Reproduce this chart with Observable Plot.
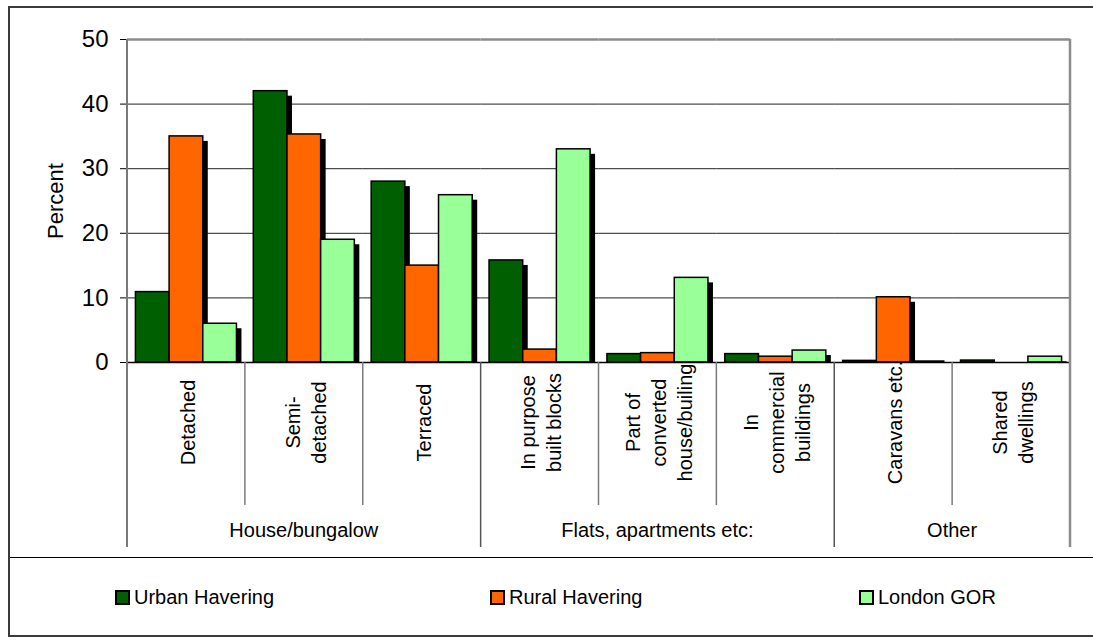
<!DOCTYPE html>
<html><head><meta charset="utf-8">
<script src="https://cdn.jsdelivr.net/npm/d3@7"></script>
<script src="https://cdn.jsdelivr.net/npm/@observablehq/plot@0.6"></script>
<style>
html,body{margin:0;padding:0;background:#fff;overflow:hidden;}
body{width:1093px;height:640px;position:relative;font-family:"Liberation Sans",Arial,sans-serif;}
#chart{position:absolute;left:0;top:0;}
#outer{position:absolute;left:8px;top:6px;width:1095px;height:631px;border:2px solid #3a3a3a;box-sizing:border-box;pointer-events:none;}
#legend{position:absolute;left:9px;top:557px;width:1090px;height:78px;border-top:1.5px solid #000;}
.item{position:absolute;top:29px;display:flex;align-items:center;font-size:20px;color:#000;line-height:20px;}
.sw{width:11px;height:11px;border:2px solid #000;margin-right:4px;}
</style></head>
<body>
<div id="chart"></div>
<div id="legend"></div>
<div id="outer"></div>
<script>
const categories = ["Detached","Semi-detached","Terraced","In purpose built blocks","Part of converted house/builing","In commercial buildings","Caravans etc.","Shared dwellings"];
const categoryLabels = ["Detached","Semi-\ndetached","Terraced","In purpose\nbuilt blocks","Part of\nconverted\nhouse/builing","In\ncommercial\nbuildings","Caravans etc.","Shared\ndwellings"];
const groups = ["House/bungalow","Flats, apartments etc:","Other"];
const groupOf = [0,0,0,1,1,1,2,2];
const series = ["Urban Havering","Rural Havering","London GOR"];
const urban  = [10.9, 42.0, 28.0, 15.8, 1.3, 1.3, 0.25, 0.3];
const rural  = [35.0, 35.3, 15.0, 2.0, 1.45, 0.9, 10.1, 0];
const london = [6.0, 19.0, 25.9, 33.0, 13.1, 1.85, 0.15, 0.9];
const colors = ["#005f00","#ff6600","#99ff99"];
const yTicks = [0,10,20,30,40,50];
const gridTicks = [10,20,30,40];

const values = [urban, rural, london];
const rows = [];
categories.forEach((c, i) => series.forEach((s, j) => rows.push({cat: c, series: s, value: values[j][i]})));

const plot = Plot.plot({
  width: 1093, height: 557,
  marginLeft: 127, marginRight: 23, marginTop: 39, marginBottom: 195,
  style: {fontFamily: "'Liberation Sans', Arial, sans-serif", color: "#000", background: "transparent", overflow: "visible"},
  fx: {domain: categories, padding: 0, round: false, axis: null, label: null},
  x: {domain: series, paddingInner: 0, paddingOuter: 0.25, round: false, axis: null},
  y: {domain: [0, 50], axis: null},
  color: {domain: series, range: colors},
  marks: [
    Plot.ruleY(gridTicks, {stroke: "#222", strokeWidth: 1}),
    Plot.ruleY([50], {stroke: "#8c8c8c", strokeWidth: 2.5}),
    Plot.barY(rows, {fx: "cat", x: "series", y: "value", fill: "#000", dx: 5, dy: 5, insetBottom: 5}),
    Plot.barY(rows, {fx: "cat", x: "series", y: "value", fill: "series", stroke: "#000", strokeWidth: 1.5}),
    Plot.ruleY([0], {stroke: "#000", strokeWidth: 1.5}),
    Plot.axisY({ticks: yTicks, tickSize: 7, tickPadding: 12, fontSize: 24, label: null}),
    Plot.text(["Percent"], {frameAnchor: "left", dx: -72, rotate: -90, fontSize: 22, textAnchor: "middle", lineAnchor: "middle", facetAnchor: "left"}),
    Plot.text(categories, {fx: d => d, text: (d, i) => categoryLabels[i], frameAnchor: "bottom", dy: 60, rotate: -90, fontSize: 20, lineHeight: 1.3, textAnchor: "middle", lineAnchor: "middle"})
  ]
});
document.getElementById("chart").appendChild(plot);

// separators and group labels, positioned through the plot's own scales
const fx = plot.scale("fx"), y = plot.scale("y");
const svg = d3.select(plot);
const y0 = y.apply(0), yTop = y.apply(50);
const g = svg.append("g");
const bw = fx.bandwidth;
categories.forEach((c, i) => {
  const x = fx.apply(c);
  if (i === 0) {
    g.append("line").attr("x1", x).attr("x2", x).attr("y1", yTop).attr("y2", y0 + 185).attr("stroke", "#7a7a7a").attr("stroke-width", 2);
  } else if (groupOf[i] !== groupOf[i - 1]) {
    g.append("line").attr("x1", x).attr("x2", x).attr("y1", y0).attr("y2", y0 + 185).attr("stroke", "#555").attr("stroke-width", 1.5);
  } else {
    g.append("line").attr("x1", x).attr("x2", x).attr("y1", y0).attr("y2", y0 + 143).attr("stroke", "#7a7a7a").attr("stroke-width", 1.5);
  }
});
const xr = fx.apply(categories[categories.length - 1]) + bw;
g.append("line").attr("x1", xr).attr("x2", xr).attr("y1", yTop).attr("y2", y0 + 185).attr("stroke", "#8c8c8c").attr("stroke-width", 2.5);
groups.forEach((gr, k) => {
  const idx = categories.map((c, i) => i).filter(i => groupOf[i] === k);
  const xa = fx.apply(categories[idx[0]]), xb = fx.apply(categories[idx[idx.length - 1]]) + bw;
  g.append("text").attr("x", (xa + xb) / 2).attr("y", y0 + 170).attr("text-anchor", "middle").attr("dominant-baseline", "middle")
    .attr("font-size", 20).attr("fill", "#000").text(gr);
});

// legend
const legendLefts = [106, 481, 850];
const legend = document.getElementById("legend");
series.forEach((s, j) => {
  const it = document.createElement("div");
  it.className = "item";
  it.style.left = legendLefts[j] + "px";
  const sw = document.createElement("span");
  sw.className = "sw";
  sw.style.background = colors[j];
  const tx = document.createElement("span");
  tx.textContent = s;
  it.appendChild(sw); it.appendChild(tx);
  legend.appendChild(it);
});
</script>
</body></html>
